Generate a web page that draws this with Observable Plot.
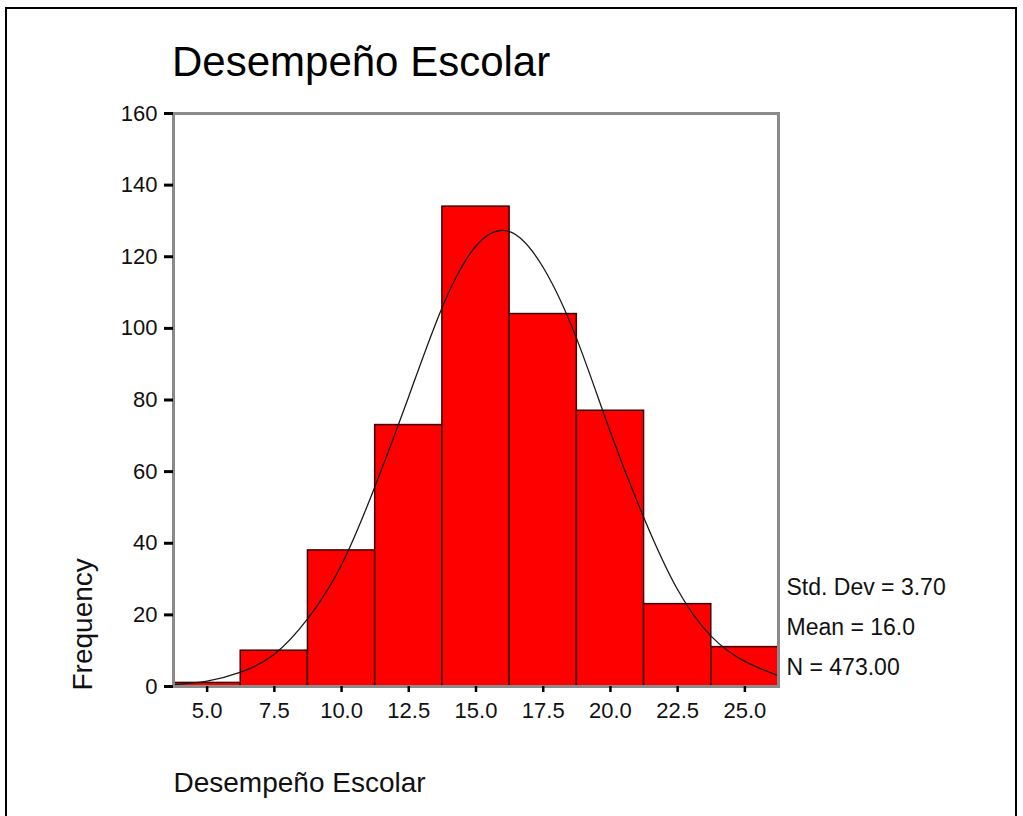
<!DOCTYPE html>
<html>
<head>
<meta charset="utf-8">
<script src="https://cdn.jsdelivr.net/npm/d3@7"></script>
<script src="https://cdn.jsdelivr.net/npm/@observablehq/plot@0.6"></script>
<style>
  html, body { margin: 0; padding: 0; background: #fff; }
  #wrap { position: relative; width: 1023px; height: 816px; overflow: hidden; font-family: "Liberation Sans", Arial, sans-serif; }
  #border { position: absolute; left: 5px; top: 7px; width: 1012px; height: 840px; border: 2px solid #000; box-sizing: border-box; }
  #title { position: absolute; left: 172px; top: 41px; font-size: 42px; line-height: 42px; color: #000; white-space: nowrap; }
  #chart { position: absolute; left: 0; top: 95px; }
</style>
</head>
<body>
<div id="wrap">
  <div id="border"></div>
  <div id="title">Desempeño Escolar</div>
  <div id="chart"></div>
</div>
<script>
// Histogram bins (center, width 2.5) and frequencies
const binCenters = [5.0, 7.5, 10.0, 12.5, 15.0, 17.5, 20.0, 22.5, 25.0];
const frequencies = [1, 10, 38, 73, 134, 104, 77, 23, 11];
const binWidth = 2.5;

// Fitted normal curve
const curveX = [3.75, 5, 6.25, 7.5, 8.75, 10, 11.25, 12.5, 13.75, 15, 16.25, 17.5, 18.75, 20, 21.25, 22.5, 23.75, 25, 26.25];
const curveY = [0.5, 1.5, 4, 9, 19, 34, 56, 81, 106, 123, 127, 117, 97, 71, 47, 27, 14, 7, 3];

const yTicks = [0, 20, 40, 60, 80, 100, 120, 140, 160];
const xTicks = binCenters;

const titleText = "Desempeño Escolar";
const xLabel = "Desempeño Escolar";
const yLabel = "Frequency";
const statStdDev = "3.70";
const statMean = "16.0";
const statN = "473.00";

const bins = binCenters.map((c, i) => ({x1: c - binWidth / 2, x2: c + binWidth / 2, freq: frequencies[i]}));
const curve = curveX.map((x, i) => ({x, y: curveY[i]}));
const statsText = `Std. Dev = ${statStdDev}\nMean = ${statMean}\nN = ${statN}`;

const chart = Plot.plot({
  width: 1023,
  height: 721,
  marginLeft: 173,
  marginRight: 245,
  marginTop: 18,
  marginBottom: 130,
  style: {fontFamily: "Liberation Sans, Arial, sans-serif", color: "#111", background: "transparent"},
  x: {domain: [3.75, 26.25]},
  y: {domain: [0, 160]},
  marks: [
    Plot.rectY(bins, {x1: "x1", x2: "x2", y: "freq", fill: "#ff0000", stroke: "#3a0000", strokeWidth: 1.5}),
    Plot.line(curve, {x: "x", y: "y", curve: "natural", stroke: "#1a1a1a", strokeWidth: 1.3}),
    Plot.frame({stroke: "#8a8a8a", strokeWidth: 3}),
    Plot.axisY({ticks: yTicks, tickSize: 9, tickPadding: 7, fontSize: 22, label: null, stroke: "#000", strokeWidth: 3}),
    Plot.axisX({ticks: xTicks, tickFormat: d3.format(".1f"), tickSize: 6, tickPadding: 10, fontSize: 22, label: null, stroke: "#000", strokeWidth: 2.5}),
    Plot.text([xLabel], {frameAnchor: "bottom-left", textAnchor: "start", lineAnchor: "middle", dy: 97, fontSize: 28, fill: "#111"}),
    Plot.text([yLabel], {frameAnchor: "bottom-left", textAnchor: "start", lineAnchor: "middle", rotate: -90, dx: -90, dy: 4, fontSize: 28, fill: "#111"}),
    Plot.text([statsText], {frameAnchor: "bottom-right", textAnchor: "start", lineAnchor: "bottom", lineHeight: 1.72, dx: 8, dy: -12, fontSize: 23, fill: "#111"})
  ]
});
document.getElementById("chart").appendChild(chart);
</script>
</body>
</html>
